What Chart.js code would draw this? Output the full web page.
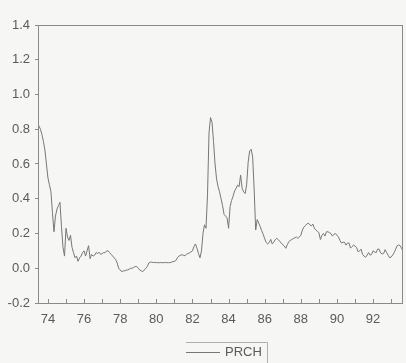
<!DOCTYPE html>
<html lang="en">
  <head>
    <meta charset="UTF-8">
    <title>PRCH</title>
    <script src="https://cdn.jsdelivr.net/npm/chart.js"></script>
    <style>
      body {
        margin: 0;
        padding: 0;
        background-color: #f6f6f4;
      }
      canvas {
        display: block;
      }
    </style>
  </head>
  <body>
  <canvas id="prchChart" width="406" height="363"></canvas>

  <script>
  // monthly series, 1973M07 .. 1993M09
  var startYear = 73;
  var startMonth = 7;
  var prch = [
    0.82, 0.80, 0.77, 0.73, 0.68, 0.60,
    0.52, 0.48, 0.44, 0.32, 0.21, 0.30, 0.34, 0.36, 0.38, 0.24, 0.12, 0.07,
    0.23, 0.18, 0.16, 0.19, 0.12, 0.09, 0.06, 0.07, 0.04, 0.06, 0.07, 0.09,
    0.10, 0.07, 0.10, 0.13, 0.055, 0.08, 0.07, 0.075, 0.09, 0.085, 0.092, 0.08,
    0.085, 0.09, 0.09, 0.10, 0.10, 0.09, 0.08, 0.07, 0.06, 0.05, 0.03, 0.00,
    -0.01, -0.02, -0.015, -0.015, -0.01, -0.01, -0.005, 0.0, 0.0, 0.005, 0.01, 0.01,
    0.0, -0.01, -0.015, -0.02, -0.01, 0.0, 0.01, 0.03, 0.035, 0.035, 0.033, 0.033,
    0.033, 0.032, 0.032, 0.033, 0.032, 0.032, 0.033, 0.032, 0.032, 0.032, 0.035, 0.038,
    0.04, 0.045, 0.06, 0.07, 0.075, 0.077, 0.075, 0.072, 0.08, 0.085, 0.088, 0.094,
    0.10, 0.125, 0.14, 0.115, 0.085, 0.06, 0.10, 0.20, 0.25, 0.23, 0.42, 0.78,
    0.867, 0.84, 0.73, 0.60, 0.515, 0.47, 0.44, 0.40, 0.36, 0.31, 0.30, 0.29,
    0.23, 0.355, 0.39, 0.415, 0.445, 0.46, 0.478, 0.47, 0.536, 0.46, 0.44, 0.43,
    0.48, 0.61, 0.675, 0.685, 0.64, 0.45, 0.22, 0.28, 0.26, 0.24, 0.216, 0.195,
    0.17, 0.148, 0.14, 0.148, 0.166, 0.14, 0.15, 0.165, 0.172, 0.165, 0.155, 0.145,
    0.135, 0.128, 0.115, 0.135, 0.153, 0.16, 0.165, 0.171, 0.175, 0.18, 0.172, 0.18,
    0.19, 0.22, 0.237, 0.245, 0.255, 0.26, 0.25, 0.244, 0.254, 0.23, 0.22, 0.212,
    0.205, 0.165, 0.19, 0.20, 0.185, 0.21, 0.21, 0.205, 0.20, 0.185, 0.195, 0.20,
    0.19, 0.18, 0.16, 0.145, 0.15, 0.15, 0.133, 0.145, 0.145, 0.116, 0.125, 0.133,
    0.127, 0.12, 0.095, 0.10, 0.11, 0.08, 0.07, 0.063, 0.075, 0.09, 0.075, 0.08,
    0.10, 0.095, 0.089, 0.11, 0.11, 0.088, 0.082, 0.085, 0.107, 0.09, 0.075, 0.06,
    0.065, 0.076, 0.09, 0.11, 0.13, 0.134, 0.13, 0.113, 0.094
  ];
  var tickYears = [74, 75, 76, 77, 78, 79, 80, 81, 82, 83, 84, 85, 86, 87, 88, 89, 90, 91, 92, 93];
  var labelYears = [74, 76, 78, 80, 82, 84, 86, 88, 90, 92];
  var yTicks = [-0.2, 0.0, 0.2, 0.4, 0.6, 0.8, 1.0, 1.2, 1.4];

  var axisColor = '#8a8a8a';
  var textColor = '#5a5a5a';
  var tickFont = { family: 'Liberation Sans, Arial, sans-serif', size: 13 };

  var points = prch.map(function (v, i) {
    return { x: startYear + (startMonth - 1 + i) / 12, y: v };
  });

  // off-white page, frame round the plot, inward year ticks, small legend
  var pagePlugin = {
    id: 'page',
    beforeDraw: function (chart) {
      var ctx = chart.ctx;
      ctx.save();
      ctx.fillStyle = '#f6f6f4';
      ctx.fillRect(0, 0, chart.width, chart.height);
      ctx.restore();
    },
    afterDraw: function (chart) {
      var ctx = chart.ctx;
      var a = chart.chartArea;
      var xs = chart.scales.x;
      ctx.save();
      ctx.strokeStyle = axisColor;
      ctx.lineWidth = 1;
      ctx.strokeRect(Math.round(a.left) + 0.5, Math.round(a.top) + 0.5,
        Math.round(a.right - a.left), Math.round(a.bottom - a.top));

      ctx.beginPath();
      xs.ticks.forEach(function (t) {
        var px = Math.round(xs.getPixelForValue(t.value)) + 0.5;
        ctx.moveTo(px, Math.round(a.bottom));
        ctx.lineTo(px, Math.round(a.bottom) - 4);
      });
      ctx.stroke();

      var ds = chart.data.datasets[0];
      var ly = 352.5;
      ctx.strokeStyle = ds.borderColor;
      ctx.beginPath();
      ctx.moveTo(186, ly);
      ctx.lineTo(220, ly);
      ctx.stroke();
      ctx.strokeStyle = '#b0b0b0';
      ctx.beginPath();
      ctx.moveTo(186, 342.5);
      ctx.lineTo(267.5, 342.5);
      ctx.lineTo(267.5, 363);
      ctx.stroke();
      ctx.fillStyle = textColor;
      ctx.font = '13px Liberation Sans, Arial, sans-serif';
      ctx.textBaseline = 'middle';
      ctx.textAlign = 'left';
      ctx.fillText(ds.label, 225, ly);
      ctx.restore();
    }
  };

  var ctx = document.getElementById('prchChart').getContext('2d');
  var prchChart = new Chart(ctx, {
    type: 'line',
    data: {
      datasets: [{
        label: 'PRCH',
        data: points,
        borderColor: '#777777',
        borderWidth: 1,
        pointRadius: 0,
        tension: 0,
        fill: false
      }]
    },
    options: {
      responsive: false,
      animation: false,
      layout: {
        padding: { left: 0, right: 4, top: 25, bottom: 0 }
      },
      plugins: {
        legend: { display: false },
        tooltip: { enabled: false }
      },
      scales: {
        x: {
          type: 'linear',
          min: 73.45,
          max: 93.6,
          afterBuildTicks: function (scale) {
            scale.ticks = tickYears.map(function (v) { return { value: v }; });
          },
          afterFit: function (scale) {
            scale.height = 60;
          },
          ticks: {
            autoSkip: false,
            maxRotation: 0,
            padding: 9,
            color: textColor,
            font: tickFont,
            callback: function (v) {
              return labelYears.indexOf(v) >= 0 ? String(v) : '';
            }
          },
          grid: { drawOnChartArea: false, drawTicks: false, color: axisColor },
          border: { color: axisColor }
        },
        y: {
          min: -0.2,
          max: 1.4,
          afterBuildTicks: function (scale) {
            scale.ticks = yTicks.map(function (v) { return { value: v }; });
          },
          afterFit: function (scale) {
            scale.width = 38;
          },
          ticks: {
            padding: 5,
            color: textColor,
            font: tickFont,
            callback: function (v) {
              return v.toFixed(1);
            }
          },
          grid: { drawOnChartArea: false, tickLength: 3, color: axisColor },
          border: { color: axisColor }
        }
      }
    },
    plugins: [pagePlugin]
  });
  </script>
</body>
</html>
